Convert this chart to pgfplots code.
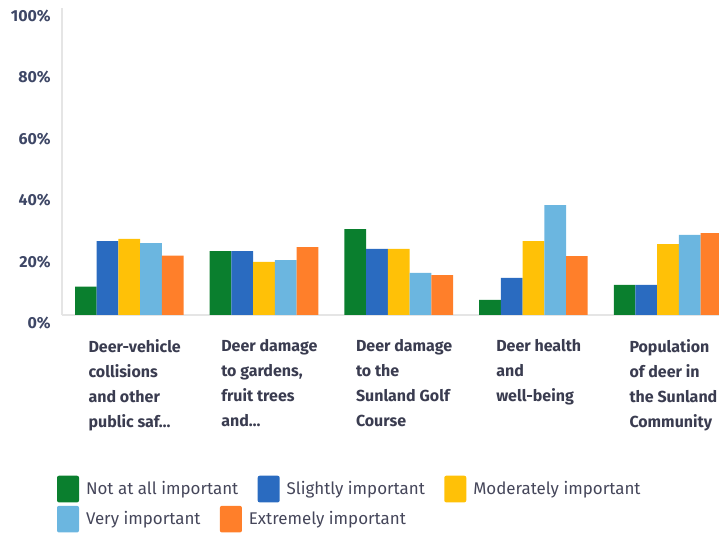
\documentclass[border=0pt]{standalone}
\usepackage{fontspec}
\setmainfont{Fira Sans}
\usepackage{pgfplots}
\pgfplotsset{compat=1.18}
\definecolor{cGreen}{HTML}{0A7F2E}
\definecolor{cBlue}{HTML}{2A6BC0}
\definecolor{cYellow}{HTML}{FFC107}
\definecolor{cLight}{HTML}{6BB6E0}
\definecolor{cOrange}{HTML}{FF7F2A}
\definecolor{tickc}{HTML}{3E4766}
\definecolor{labc}{HTML}{3A3C50}
\definecolor{legc}{HTML}{45465A}
\newcommand{\dd}{\ldots}
\pgfplotsset{
  legbox/.style={
    legend image code/.code={\fill[##1, rounded corners=1.5pt] (0pt,-10pt) rectangle (16.5pt,10pt);},
    legend style={draw=none, fill=none, inner sep=0pt, outer sep=0pt,
      anchor=west, legend cell align=left,
      nodes={inner sep=0pt, anchor=west, text=legc, font=\fontsize{12.7}{14}\selectfont},
      /tikz/every odd column/.append style={column sep=5.25pt},
      /tikz/every even column/.append style={column sep=14.5pt}},
  }
}
\begin{document}
\begin{tikzpicture}
\begin{axis}[
  at={(46.5pt,164.25pt)}, anchor=south west,
  scale only axis, width=492.75pt, height=230.25pt,
  xmin=0.5, xmax=5.378, ymin=0, ymax=100,
  enlarge x limits=false,
  ybar=0pt, bar width=16.3pt,
  axis x line*=bottom, axis y line*=left,
  axis line style={-, draw=black!10, line width=0.8pt},
  major tick length=0pt,
  ytick={0,20,40,60,80,100},
  yticklabels={0\%,20\%,40\%,60\%,80\%,100\%},
  yticklabel style={inner sep=0pt, anchor=east, xshift=-8.25pt, yshift=-6pt,
    text=tickc, font=\bfseries\fontsize{12}{13}\selectfont},
  xtick={1,2,3,4,5},
  xticklabels={{Deer-vehicle\\collisions\\and other\\public saf\dd},
               {Deer damage\\to gardens,\\fruit trees\\and\dd},
               {Deer damage\\to the\\Sunland Golf\\Course},
               {Deer health\\and\\well-being},
               {Population\\of deer in\\the Sunland\\Community}},
  xticklabel style={align=left, anchor=north, inner sep=0pt, yshift=-18pt, xshift=4pt,
    text=labc, font=\bfseries\fontsize{12}{18.75}\selectfont},
  legbox,
  legend style={at={(axis description cs:-0.0076,-0.567)}, legend columns=3},
  clip=false,
]
\addplot[fill=cGreen, draw=none] coordinates {(1,9.2) (2,20.8) (3,28.0) (4,4.9) (5,9.8)};
\addplot[fill=cBlue, draw=none] coordinates {(1,24.1) (2,20.8) (3,21.5) (4,12.1) (5,9.8)};
\addplot[fill=cYellow, draw=none] coordinates {(1,24.8) (2,17.3) (3,21.5) (4,24.1) (5,23.1)};
\addplot[fill=cLight, draw=none] coordinates {(1,23.4) (2,17.9) (3,13.7) (4,35.8) (5,26.1)};
\addplot[fill=cOrange, draw=none] coordinates {(1,19.3) (2,22.1) (3,13.0) (4,19.2) (5,26.7)};
\legend{Not at all important, Slightly important, Moderately important}
\end{axis}
\begin{axis}[
  at={(46.5pt,164.25pt)}, anchor=south west,
  scale only axis, width=492.75pt, height=230.25pt,
  xmin=0.5, xmax=5.378, ymin=0, ymax=100,
  hide axis,
  legbox,
  legend style={at={(axis description cs:-0.0076,-0.665)}, legend columns=2},
]
\addlegendimage{fill=cLight, draw=none}
\addlegendentry{Very important}
\addlegendimage{fill=cOrange, draw=none}
\addlegendentry{Extremely important}
\end{axis}
\pgfresetboundingbox
\path[use as bounding box] (0,0) rectangle (539.25pt,400.5pt);
\end{tikzpicture}
\end{document}
